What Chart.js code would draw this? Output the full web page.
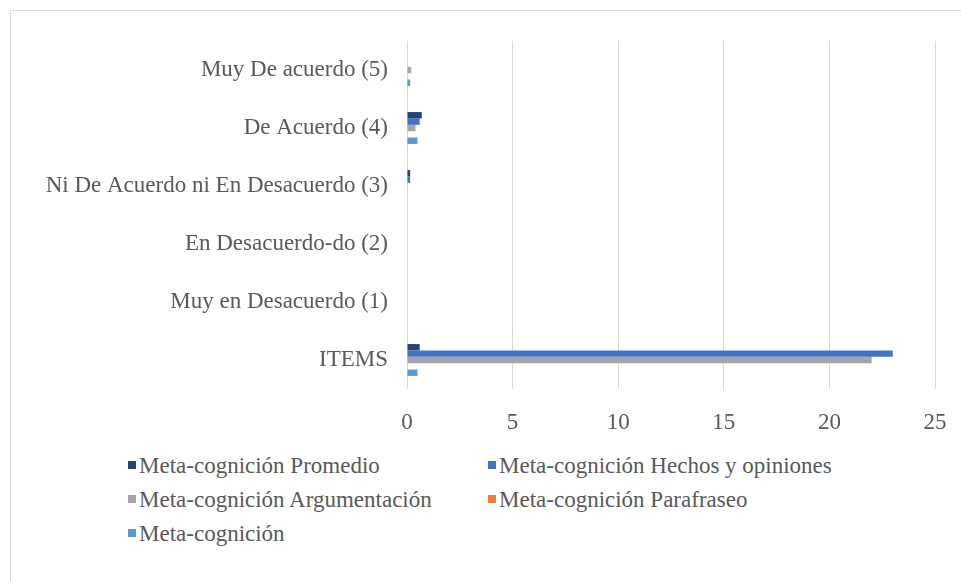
<!DOCTYPE html>
<html>
<head>
<meta charset="utf-8">
<script src="https://cdn.jsdelivr.net/npm/chart.js@4"></script>
<style>
  body { margin: 0; background: #fff; }
  #wrap { position: relative; width: 961px; height: 582px; overflow: hidden; background: #fff; }
  #frame { position: absolute; left: 10px; top: 10px; width: 970px; height: 590px; border: 1px solid #d9d9d9; }
  #chartBox { position: absolute; left: 0; top: 0; width: 961px; height: 440px; }
  #legend { position: absolute; left: 0; top: 0; font-family: "Liberation Serif", serif; font-size: 23px; color: #595959; }
  .item { position: absolute; white-space: nowrap; line-height: 26px; }
  .sw { display: inline-block; width: 8px; height: 8px; margin-right: 3px; vertical-align: 4px; }
</style>
</head>
<body>
<div id="wrap">
  <div id="frame"></div>
  <div id="chartBox"><canvas id="metaChart"></canvas></div>
  <div id="legend"></div>
</div>
<script>
// categories, top to bottom as drawn
const categories = [
    'Muy De acuerdo (5)',
    'De Acuerdo (4)',
    'Ni De Acuerdo ni En Desacuerdo (3)',
    'En Desacuerdo-do (2)',
    'Muy en Desacuerdo (1)',
    'ITEMS'
];

const seriesNames = [
    'Meta-cognición Promedio',
    'Meta-cognición Hechos y opiniones',
    'Meta-cognición Argumentación',
    'Meta-cognición Parafraseo',
    'Meta-cognición'
];

const promedio      = [0,   0.7, 0.15, 0, 0, 0.6];
const hechos        = [0,   0.6, 0.15, 0, 0, 23];
const argumentacion = [0.2, 0.4, 0,    0, 0, 22];
const parafraseo    = [0,   0,   0,    0, 0, 0];
const metacognicion = [0.15, 0.5, 0,   0, 0, 0.5];

const xTicks = [0, 5, 10, 15, 20, 25];

const colors = ['#264478', '#4472C4', '#A5A5A5', '#ED7D31', '#5B9BD5'];
const seriesValues = [promedio, hechos, argumentacion, parafraseo, metacognicion];

const fontFamily = '"Liberation Serif", "Times New Roman", serif';
const textColor = '#595959';

const ctx = document.getElementById('metaChart').getContext('2d');
new Chart(ctx, {
    type: 'bar',
    data: {
        labels: categories,
        datasets: seriesNames.map((name, i) => ({
            label: name,
            data: seriesValues[i],
            backgroundColor: colors[i],
            borderWidth: 0,
            categoryPercentage: 0.55,
            barPercentage: 1
        }))
    },
    options: {
        indexAxis: 'y',
        responsive: true,
        maintainAspectRatio: false,
        animation: false,
        layout: {
            padding: { top: 41, right: 26, left: 0, bottom: 0 }
        },
        scales: {
            x: {
                min: 0,
                max: 25,
                afterFit: axis => {
                    axis.height = 51;
                    axis.paddingLeft = 0;
                    axis.paddingRight = 0;
                },
                afterBuildTicks: axis => { axis.ticks = xTicks.map(v => ({ value: v })); },
                grid: { color: '#d9d9d9', drawTicks: false },
                border: { display: false },
                ticks: {
                    padding: 20,
                    color: textColor,
                    font: { family: fontFamily, size: 23 }
                }
            },
            y: {
                afterFit: axis => { axis.width = 407; },
                grid: { display: false, drawTicks: false },
                border: { display: false },
                ticks: {
                    autoSkip: false,
                    padding: 19,
                    color: textColor,
                    font: { family: fontFamily, size: 23 }
                }
            }
        },
        plugins: {
            legend: { display: false },
            tooltip: { enabled: false }
        }
    }
});

// legend in two columns like the original
const legendPos = [[128, 453], [488, 453], [128, 487], [488, 487], [128, 521]];
const legendEl = document.getElementById('legend');
seriesNames.forEach((name, i) => {
    const item = document.createElement('div');
    item.className = 'item';
    item.style.left = legendPos[i][0] + 'px';
    item.style.top = legendPos[i][1] + 'px';
    item.innerHTML = '<span class="sw" style="background:' + colors[i] + '"></span>' + name;
    legendEl.appendChild(item);
});
</script>
</body>
</html>
